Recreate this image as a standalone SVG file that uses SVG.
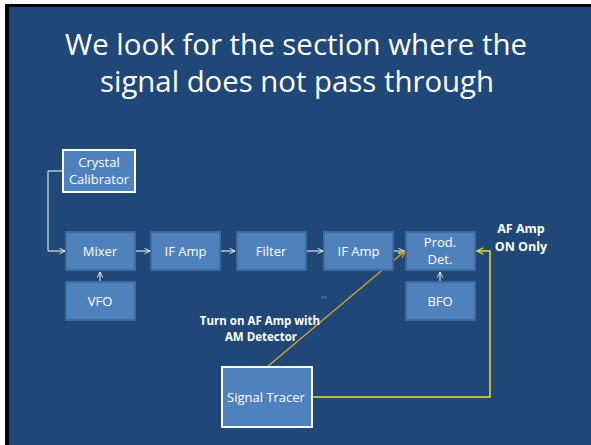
<svg xmlns="http://www.w3.org/2000/svg" width="591" height="445" viewBox="0 0 591 445">
<defs>
<style>
.box{fill:#4F81BD;stroke:#3F6A9E;stroke-width:2}
.wbox{fill:#4F81BD;stroke:#FFFFFF;stroke-width:2}
.lbl{font-family:"Open Sans","Liberation Sans",sans-serif;font-size:13px;fill:#FFFFFF;text-anchor:middle}
.bold{font-family:"Open Sans","Liberation Sans",sans-serif;font-size:11.5px;font-weight:bold;fill:#FFFFFF;text-anchor:middle}
.bold2{font-family:"Open Sans","Liberation Sans",sans-serif;font-size:12.5px;font-weight:bold;fill:#FFFFFF;text-anchor:middle}
.title{font-family:"Open Sans","Liberation Sans",sans-serif;font-size:30px;fill:#FFFFFF;text-anchor:middle}
.wl{fill:none;stroke:#FFFFFF;stroke-width:1}
.yl{fill:none;stroke:#E6E22A;stroke-width:1.5}
.gl{fill:none;stroke:#D9AE2B;stroke-width:1.2}
</style>
<marker id="aw" viewBox="0 0 10 10" refX="9" refY="5" markerWidth="7" markerHeight="7" orient="auto" markerUnits="userSpaceOnUse">
<path d="M1,1 L9,5 L1,9" fill="none" stroke="#FFFFFF" stroke-width="1.2"/>
</marker>
<marker id="ay" viewBox="0 0 10 10" refX="9" refY="5" markerWidth="8" markerHeight="8" orient="auto" markerUnits="userSpaceOnUse">
<path d="M1,1 L9,5 L1,9" fill="none" stroke="#E6E22A" stroke-width="1.5"/>
</marker>
<marker id="ag" viewBox="0 0 10 10" refX="9" refY="5" markerWidth="8" markerHeight="8" orient="auto" markerUnits="userSpaceOnUse">
<path d="M1,1 L9,5 L1,9" fill="none" stroke="#E0B020" stroke-width="1.5"/>
</marker>
</defs>
<rect x="0" y="0" width="591" height="445" fill="#FFFFFF"/>
<rect x="5" y="4" width="586" height="441" fill="#000000"/>
<rect x="9" y="7" width="582" height="438" fill="#1F4879"/>
<g id="title">
<text class="title" x="296" y="55" textLength="462" lengthAdjust="spacingAndGlyphs">We look for the section where the</text>
<text class="title" x="297" y="92" textLength="394" lengthAdjust="spacingAndGlyphs">signal does not pass through</text>
</g>
<rect x="321" y="296" width="6" height="3" fill="#3A5F8E"/>
<g id="connectors">
<polyline class="wl" points="63,171 48,171 48,251 65,251" marker-end="url(#aw)"/>
<line class="wl" x1="135" y1="251" x2="150" y2="251" marker-end="url(#aw)"/>
<line class="wl" x1="220" y1="251" x2="235" y2="251" marker-end="url(#aw)"/>
<line class="wl" x1="306" y1="251" x2="323" y2="251" marker-end="url(#aw)"/>
<line class="wl" x1="393" y1="251" x2="404" y2="251" marker-end="url(#aw)"/>
<line class="wl" x1="100" y1="281" x2="100" y2="272" marker-end="url(#aw)"/>
<line class="wl" x1="440" y1="281" x2="440" y2="272" marker-end="url(#aw)"/>
<polyline class="yl" points="312,397 490,397 490,251 477,251" marker-end="url(#ay)"/>
<line class="gl" x1="267" y1="367" x2="405" y2="251" marker-end="url(#ag)"/>
</g>
<g id="crystal">
<rect class="wbox" x="63" y="150" width="72" height="42"/>
<text class="lbl" x="99" y="167">Crystal</text>
<text class="lbl" x="99" y="184">Calibrator</text>
</g>
<g id="mixer">
<rect class="box" x="66" y="232" width="69" height="38"/>
<text class="lbl" x="100" y="256">Mixer</text>
</g>
<g id="ifamp1">
<rect class="box" x="151" y="232" width="69" height="38"/>
<text class="lbl" x="185.5" y="256">IF Amp</text>
</g>
<g id="filter">
<rect class="box" x="237" y="232" width="69" height="38"/>
<text class="lbl" x="271" y="256">Filter</text>
</g>
<g id="ifamp2">
<rect class="box" x="324" y="232" width="69" height="38"/>
<text class="lbl" x="358.5" y="256">IF Amp</text>
</g>
<g id="proddet">
<rect class="box" x="406" y="232" width="69" height="38"/>
<text class="lbl" x="440" y="247">Prod.</text>
<text class="lbl" x="440" y="264">Det.</text>
</g>
<g id="vfo">
<rect class="box" x="66" y="282" width="69" height="38"/>
<text class="lbl" x="100" y="306">VFO</text>
</g>
<g id="bfo">
<rect class="box" x="406" y="282" width="69" height="38"/>
<text class="lbl" x="440" y="306">BFO</text>
</g>
<g id="tracer">
<rect class="wbox" x="222" y="367" width="90" height="60"/>
<text class="lbl" x="266" y="402">Signal Tracer</text>
</g>
<g id="notes">
<text class="bold" x="260" y="325">Turn on AF Amp with</text>
<text class="bold" x="261" y="341">AM Detector</text>
<text class="bold2" x="521" y="233">AF Amp</text>
<text class="bold2" x="521" y="251">ON Only</text>
</g>
</svg>
